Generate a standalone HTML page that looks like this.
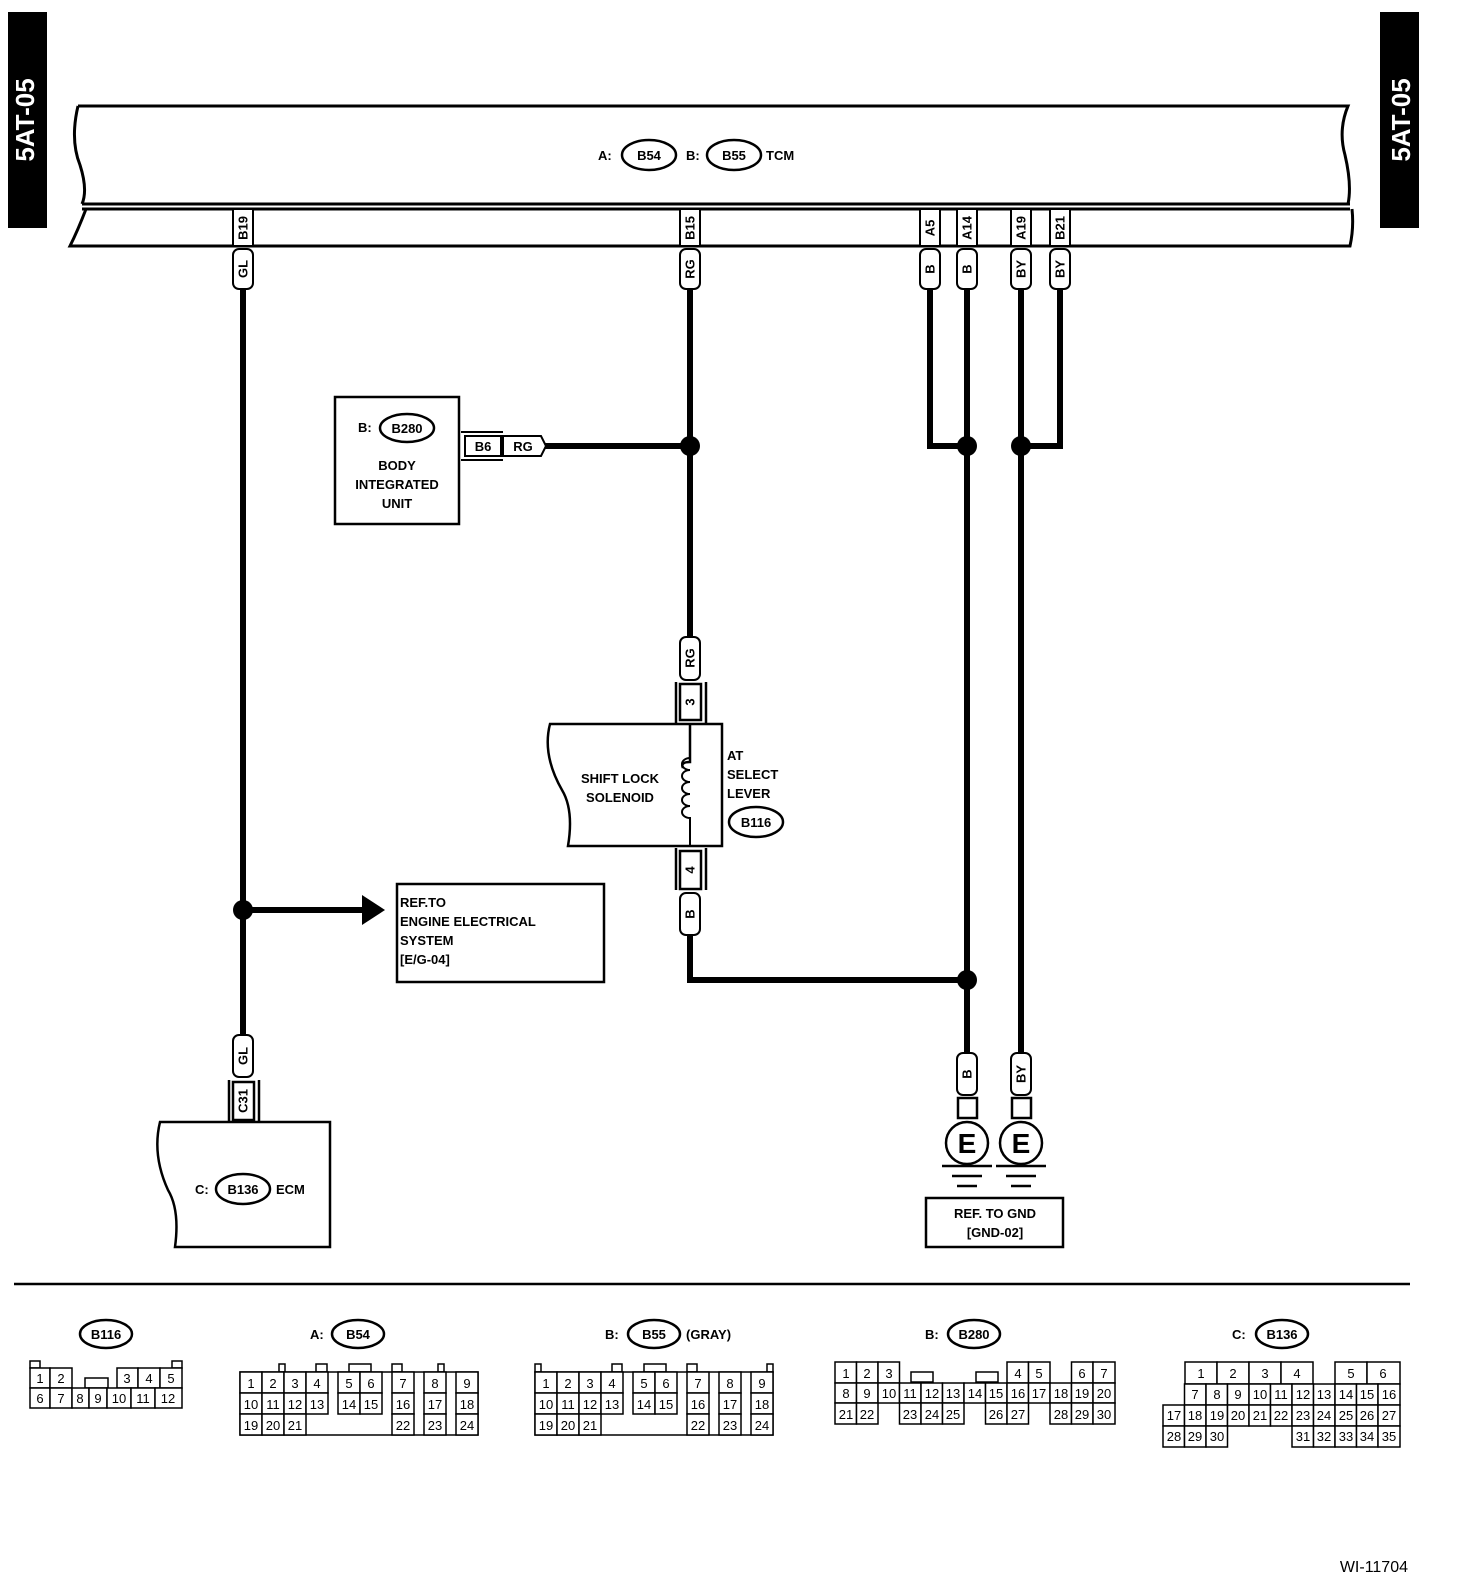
<!DOCTYPE html>
<html><head><meta charset="utf-8"><style>
html,body{margin:0;padding:0;background:#fff}
svg{display:block}
text{font-family:"Liberation Sans",Arial,sans-serif;font-weight:bold;fill:#000}
.s{font-size:15px}
.t{font-size:13px}
.c{font-size:13px;font-weight:normal;text-anchor:middle}
.v{font-size:13px;text-anchor:middle;dominant-baseline:central}
.cell rect{fill:#fff;stroke:#000;stroke-width:1.5}
</style></head><body>
<svg width="1472" height="1586" viewBox="0 0 1472 1586" xmlns="http://www.w3.org/2000/svg">
<rect width="1472" height="1586" fill="#fff"/>
<!-- side tabs -->
<rect x="8" y="12" width="39" height="216" fill="#000"/>
<text transform="translate(34,120) rotate(-90)" text-anchor="middle" style="fill:#fff;font-size:26px">5AT-05</text>
<rect x="1380" y="12" width="39" height="216" fill="#000"/>
<text transform="translate(1410,120) rotate(-90)" text-anchor="middle" style="fill:#fff;font-size:26px">5AT-05</text>

<!-- TCM bar -->
<g fill="none" stroke="#000" stroke-width="3">
<path d="M78,106 L1348,106 Q1338,130 1345,155 Q1352,185 1348,204"/>
<path d="M78,106 Q70,140 80,165 Q88,190 82,204"/>
<line x1="82" y1="204" x2="1350" y2="204"/>
<line x1="82" y1="209" x2="1350" y2="209"/>
<path d="M86,209 Q78,230 70,246 L1350,246 Q1354,228 1352,209"/>
</g>
<text x="598" y="160" class="t">A:</text>
<ellipse cx="649" cy="155" rx="27" ry="15" fill="none" stroke="#000" stroke-width="2.5"/>
<text x="649" y="160" class="t" text-anchor="middle">B54</text>
<text x="686" y="160" class="t">B:</text>
<ellipse cx="734" cy="155" rx="27" ry="15" fill="none" stroke="#000" stroke-width="2.5"/>
<text x="734" y="160" class="t" text-anchor="middle">B55</text>
<text x="766" y="160" class="t">TCM</text>

<!-- pin boxes in bar -->
<g fill="#fff" stroke="#000" stroke-width="2">
<rect x="233" y="209" width="20" height="37"/>
<rect x="680" y="209" width="20" height="37"/>
<rect x="920" y="209" width="20" height="37"/>
<rect x="957" y="209" width="20" height="37"/>
<rect x="1011" y="209" width="20" height="37"/>
<rect x="1050" y="209" width="20" height="37"/>
</g>
<text class="v" transform="translate(243,228) rotate(-90)">B19</text>
<text class="v" transform="translate(690,228) rotate(-90)">B15</text>
<text class="v" transform="translate(930,228) rotate(-90)">A5</text>
<text class="v" transform="translate(967,228) rotate(-90)">A14</text>
<text class="v" transform="translate(1021,228) rotate(-90)">A19</text>
<text class="v" transform="translate(1060,228) rotate(-90)">B21</text>

<!-- wires -->
<g fill="none" stroke="#000" stroke-width="6">
<line x1="243" y1="288" x2="243" y2="1036"/>
<line x1="690" y1="288" x2="690" y2="638"/>
<line x1="545" y1="446" x2="690" y2="446"/>
<polyline points="930,288 930,446 967,446"/>
<line x1="967" y1="288" x2="967" y2="1054"/>
<line x1="1021" y1="288" x2="1021" y2="1054"/>
<polyline points="1060,288 1060,446 1021,446"/>
<polyline points="690,934 690,980 967,980"/>
<line x1="243" y1="910" x2="365" y2="910"/>
</g>
<polygon points="362,895 385,910 362,925" fill="#000"/>
<g fill="#000">
<circle cx="690" cy="446" r="10"/><circle cx="967" cy="446" r="10"/><circle cx="1021" cy="446" r="10"/>
<circle cx="967" cy="980" r="10"/><circle cx="243" cy="910" r="10"/>
</g>

<!-- wire tags -->
<g fill="#fff" stroke="#000" stroke-width="2">
<rect x="233" y="249" width="20" height="40" rx="6"/>
<rect x="680" y="249" width="20" height="40" rx="6"/>
<rect x="920" y="249" width="20" height="40" rx="6"/>
<rect x="957" y="249" width="20" height="40" rx="6"/>
<rect x="1011" y="249" width="20" height="40" rx="6"/>
<rect x="1050" y="249" width="20" height="40" rx="6"/>
<rect x="680" y="637" width="20" height="43" rx="6"/>
<rect x="680" y="893" width="20" height="42" rx="6"/>
<rect x="233" y="1035" width="20" height="42" rx="6"/>
<rect x="957" y="1053" width="20" height="42" rx="6"/>
<rect x="1011" y="1053" width="20" height="42" rx="6"/>
</g>
<text class="v" transform="translate(243,269) rotate(-90)">GL</text>
<text class="v" transform="translate(690,269) rotate(-90)">RG</text>
<text class="v" transform="translate(930,269) rotate(-90)">B</text>
<text class="v" transform="translate(967,269) rotate(-90)">B</text>
<text class="v" transform="translate(1021,269) rotate(-90)">BY</text>
<text class="v" transform="translate(1060,269) rotate(-90)">BY</text>
<text class="v" transform="translate(690,658) rotate(-90)">RG</text>
<text class="v" transform="translate(690,914) rotate(-90)">B</text>
<text class="v" transform="translate(243,1056) rotate(-90)">GL</text>
<text class="v" transform="translate(967,1074) rotate(-90)">B</text>
<text class="v" transform="translate(1021,1074) rotate(-90)">BY</text>

<!-- body integrated unit -->
<rect x="335" y="397" width="124" height="127" fill="none" stroke="#000" stroke-width="2.5"/>
<text x="358" y="432" class="t">B:</text>
<ellipse cx="407" cy="428" rx="27" ry="14" fill="none" stroke="#000" stroke-width="2.5"/>
<text x="407" y="433" class="t" text-anchor="middle">B280</text>
<text x="397" y="470" class="t" text-anchor="middle">BODY</text>
<text x="397" y="489" class="t" text-anchor="middle">INTEGRATED</text>
<text x="397" y="508" class="t" text-anchor="middle">UNIT</text>
<g fill="none" stroke="#000" stroke-width="2">
<line x1="461" y1="432" x2="503" y2="432"/><line x1="461" y1="460" x2="503" y2="460"/>
<rect x="465" y="436" width="36" height="20"/>
<path d="M503,436 L541,436 L546,446 L541,456 L503,456 Z"/>
</g>
<text x="483" y="451" class="t" text-anchor="middle">B6</text>
<text x="523" y="451" class="t" text-anchor="middle">RG</text>

<!-- shift lock -->
<g fill="none" stroke="#000" stroke-width="2.5">
<line x1="676" y1="682" x2="676" y2="724"/><line x1="706" y1="682" x2="706" y2="724"/>
<rect x="680" y="684" width="21" height="36" fill="#fff"/>
<path d="M550,724 L722,724 L722,846 L568,846 Q574,810 562,790 Q542,755 550,724 Z"/>
<path d="M690,724 L690,762 Q680,762 683,768 M690,762 L690,724"/>
<line x1="676" y1="848" x2="676" y2="890"/><line x1="706" y1="848" x2="706" y2="890"/>
<rect x="680" y="851" width="21" height="38" fill="#fff"/>
</g>
<g fill="none" stroke="#000" stroke-width="2">
<path d="M690,724 L690,758 A8,6 0 0 0 690,770 A8,6 0 0 0 690,782 A8,6 0 0 0 690,794 A8,6 0 0 0 690,806 A8,6 0 0 0 690,818 L690,846"/>
</g>
<text class="v" transform="translate(690,702) rotate(-90)">3</text>
<text class="v" transform="translate(690,870) rotate(-90)">4</text>
<text x="620" y="783" class="t" text-anchor="middle">SHIFT LOCK</text>
<text x="620" y="802" class="t" text-anchor="middle">SOLENOID</text>
<text x="727" y="760" class="t">AT</text>
<text x="727" y="779" class="t">SELECT</text>
<text x="727" y="798" class="t">LEVER</text>
<ellipse cx="756" cy="822" rx="27" ry="15" fill="none" stroke="#000" stroke-width="2.5"/>
<text x="756" y="827" class="t" text-anchor="middle">B116</text>

<!-- ref engine -->
<rect x="397" y="884" width="207" height="98" fill="none" stroke="#000" stroke-width="2.5"/>
<text x="400" y="907" class="t">REF.TO</text>
<text x="400" y="926" class="t">ENGINE ELECTRICAL</text>
<text x="400" y="945" class="t">SYSTEM</text>
<text x="400" y="964" class="t">[E/G-04]</text>

<!-- ECM -->
<g fill="none" stroke="#000" stroke-width="2.5">
<line x1="229" y1="1080" x2="229" y2="1122"/><line x1="259" y1="1080" x2="259" y2="1122"/>
<rect x="233" y="1082" width="21" height="38" fill="#fff"/>
<path d="M160,1122 L330,1122 L330,1247 L175,1247 Q180,1210 168,1190 Q152,1155 160,1122 Z"/>
</g>
<text class="v" transform="translate(243,1101) rotate(-90)">C31</text>
<text x="195" y="1194" class="t">C:</text>
<ellipse cx="243" cy="1189" rx="27" ry="15" fill="none" stroke="#000" stroke-width="2.5"/>
<text x="243" y="1194" class="t" text-anchor="middle">B136</text>
<text x="276" y="1194" class="t">ECM</text>

<!-- grounds -->
<g fill="none" stroke="#000" stroke-width="2.5">
<rect x="958" y="1098" width="19" height="20" fill="#fff"/>
<rect x="1012" y="1098" width="19" height="20" fill="#fff"/>
<circle cx="967" cy="1143" r="21"/>
<circle cx="1021" cy="1143" r="21"/>
<line x1="942" y1="1166" x2="992" y2="1166"/><line x1="996" y1="1166" x2="1046" y2="1166"/>
<line x1="952" y1="1176" x2="982" y2="1176"/><line x1="1006" y1="1176" x2="1036" y2="1176"/>
<line x1="957" y1="1186" x2="977" y2="1186"/><line x1="1011" y1="1186" x2="1031" y2="1186"/>
<rect x="926" y="1198" width="137" height="49"/>
</g>
<text x="967" y="1153" text-anchor="middle" style="font-size:28px">E</text>
<text x="1021" y="1153" text-anchor="middle" style="font-size:28px">E</text>
<text x="995" y="1218" class="t" text-anchor="middle">REF. TO GND</text>
<text x="995" y="1237" class="t" text-anchor="middle">[GND-02]</text>

<line x1="14" y1="1284" x2="1410" y2="1284" stroke="#000" stroke-width="2.5"/>

<!-- connector labels -->
<g fill="none" stroke="#000" stroke-width="2.5">
<ellipse cx="106" cy="1334" rx="26" ry="14"/>
<ellipse cx="358" cy="1334" rx="26" ry="14"/>
<ellipse cx="654" cy="1334" rx="26" ry="14"/>
<ellipse cx="974" cy="1334" rx="26" ry="14"/>
<ellipse cx="1282" cy="1334" rx="26" ry="14"/>
</g>
<text x="106" y="1339" class="t" text-anchor="middle">B116</text>
<text x="310" y="1339" class="t">A:</text><text x="358" y="1339" class="t" text-anchor="middle">B54</text>
<text x="605" y="1339" class="t">B:</text><text x="654" y="1339" class="t" text-anchor="middle">B55</text><text x="686" y="1339" class="t">(GRAY)</text>
<text x="925" y="1339" class="t">B:</text><text x="974" y="1339" class="t" text-anchor="middle">B280</text>
<text x="1232" y="1339" class="t">C:</text><text x="1282" y="1339" class="t" text-anchor="middle">B136</text>

<!-- B116 grid -->
<g class="cell">
<rect x="30" y="1361" width="10" height="7"/><rect x="172" y="1361" width="10" height="7"/>
<rect x="85" y="1378" width="23" height="10"/>
<rect x="30" y="1368" width="20" height="20"/><rect x="50" y="1368" width="22" height="20"/>
<rect x="117" y="1368" width="21" height="20"/><rect x="138" y="1368" width="22" height="20"/><rect x="160" y="1368" width="22" height="20"/>
<rect x="30" y="1388" width="20" height="20"/><rect x="50" y="1388" width="22" height="20"/><rect x="72" y="1388" width="17" height="20"/><rect x="89" y="1388" width="18" height="20"/><rect x="107" y="1388" width="24" height="20"/><rect x="131" y="1388" width="24" height="20"/><rect x="155" y="1388" width="27" height="20"/>
</g>
<g class="c">
<text x="40" y="1383" class="c">1</text><text x="61" y="1383" class="c">2</text><text x="127" y="1383" class="c">3</text><text x="149" y="1383" class="c">4</text><text x="171" y="1383" class="c">5</text>
<text x="40" y="1403" class="c">6</text><text x="61" y="1403" class="c">7</text><text x="80" y="1403" class="c">8</text><text x="98" y="1403" class="c">9</text><text x="119" y="1403" class="c">10</text><text x="143" y="1403" class="c">11</text><text x="168" y="1403" class="c">12</text>
</g>

<!-- B54 / B55 grids -->
<g id="g54" class="cell">
<rect x="279" y="1364" width="6" height="8"/><rect x="316" y="1364" width="11" height="8"/><rect x="349" y="1364" width="22" height="8"/><rect x="392" y="1364" width="10" height="8"/><rect x="438" y="1364" width="6" height="8"/>
<rect x="240" y="1372" width="238" height="63"/>
<rect x="240" y="1372" width="22" height="21"/><rect x="262" y="1372" width="22" height="21"/><rect x="284" y="1372" width="22" height="21"/><rect x="306" y="1372" width="22" height="21"/>
<rect x="338" y="1372" width="22" height="21"/><rect x="360" y="1372" width="22" height="21"/><rect x="392" y="1372" width="22" height="21"/><rect x="424" y="1372" width="22" height="21"/><rect x="456" y="1372" width="22" height="21"/>
<rect x="240" y="1393" width="22" height="21"/><rect x="262" y="1393" width="22" height="21"/><rect x="284" y="1393" width="22" height="21"/><rect x="306" y="1393" width="22" height="21"/>
<rect x="338" y="1393" width="22" height="21"/><rect x="360" y="1393" width="22" height="21"/><rect x="392" y="1393" width="22" height="21"/><rect x="424" y="1393" width="22" height="21"/><rect x="456" y="1393" width="22" height="21"/>
<rect x="240" y="1414" width="22" height="21"/><rect x="262" y="1414" width="22" height="21"/><rect x="284" y="1414" width="22" height="21"/>
<rect x="392" y="1414" width="22" height="21"/><rect x="424" y="1414" width="22" height="21"/><rect x="456" y="1414" width="22" height="21"/>
</g>
<g>
<text x="251" y="1388" class="c">1</text><text x="273" y="1388" class="c">2</text><text x="295" y="1388" class="c">3</text><text x="317" y="1388" class="c">4</text><text x="349" y="1388" class="c">5</text><text x="371" y="1388" class="c">6</text><text x="403" y="1388" class="c">7</text><text x="435" y="1388" class="c">8</text><text x="467" y="1388" class="c">9</text>
<text x="251" y="1409" class="c">10</text><text x="273" y="1409" class="c">11</text><text x="295" y="1409" class="c">12</text><text x="317" y="1409" class="c">13</text><text x="349" y="1409" class="c">14</text><text x="371" y="1409" class="c">15</text><text x="403" y="1409" class="c">16</text><text x="435" y="1409" class="c">17</text><text x="467" y="1409" class="c">18</text>
<text x="251" y="1430" class="c">19</text><text x="273" y="1430" class="c">20</text><text x="295" y="1430" class="c">21</text><text x="403" y="1430" class="c">22</text><text x="435" y="1430" class="c">23</text><text x="467" y="1430" class="c">24</text>
</g>
<g class="cell" transform="translate(295,0)">
<rect x="240" y="1364" width="6" height="8"/><rect x="317" y="1364" width="10" height="8"/><rect x="349" y="1364" width="22" height="8"/><rect x="392" y="1364" width="10" height="8"/><rect x="472" y="1364" width="6" height="8"/>
<rect x="240" y="1372" width="238" height="63"/>
<rect x="240" y="1372" width="22" height="21"/><rect x="262" y="1372" width="22" height="21"/><rect x="284" y="1372" width="22" height="21"/><rect x="306" y="1372" width="22" height="21"/>
<rect x="338" y="1372" width="22" height="21"/><rect x="360" y="1372" width="22" height="21"/><rect x="392" y="1372" width="22" height="21"/><rect x="424" y="1372" width="22" height="21"/><rect x="456" y="1372" width="22" height="21"/>
<rect x="240" y="1393" width="22" height="21"/><rect x="262" y="1393" width="22" height="21"/><rect x="284" y="1393" width="22" height="21"/><rect x="306" y="1393" width="22" height="21"/>
<rect x="338" y="1393" width="22" height="21"/><rect x="360" y="1393" width="22" height="21"/><rect x="392" y="1393" width="22" height="21"/><rect x="424" y="1393" width="22" height="21"/><rect x="456" y="1393" width="22" height="21"/>
<rect x="240" y="1414" width="22" height="21"/><rect x="262" y="1414" width="22" height="21"/><rect x="284" y="1414" width="22" height="21"/>
<rect x="392" y="1414" width="22" height="21"/><rect x="424" y="1414" width="22" height="21"/><rect x="456" y="1414" width="22" height="21"/>
</g>
<g transform="translate(295,0)">
<text x="251" y="1388" class="c">1</text><text x="273" y="1388" class="c">2</text><text x="295" y="1388" class="c">3</text><text x="317" y="1388" class="c">4</text><text x="349" y="1388" class="c">5</text><text x="371" y="1388" class="c">6</text><text x="403" y="1388" class="c">7</text><text x="435" y="1388" class="c">8</text><text x="467" y="1388" class="c">9</text>
<text x="251" y="1409" class="c">10</text><text x="273" y="1409" class="c">11</text><text x="295" y="1409" class="c">12</text><text x="317" y="1409" class="c">13</text><text x="349" y="1409" class="c">14</text><text x="371" y="1409" class="c">15</text><text x="403" y="1409" class="c">16</text><text x="435" y="1409" class="c">17</text><text x="467" y="1409" class="c">18</text>
<text x="251" y="1430" class="c">19</text><text x="273" y="1430" class="c">20</text><text x="295" y="1430" class="c">21</text><text x="403" y="1430" class="c">22</text><text x="435" y="1430" class="c">23</text><text x="467" y="1430" class="c">24</text>
</g>

<!-- B280: cols 21.5 from 835 -->
<g class="cell">
<rect x="911" y="1372" width="22" height="10"/><rect x="976" y="1372" width="22" height="10"/>
<rect x="835" y="1362" width="21.5" height="21"/><rect x="856.5" y="1362" width="21.5" height="21"/><rect x="878" y="1362" width="21.5" height="21"/>
<rect x="1007" y="1362" width="21.5" height="21"/><rect x="1028.5" y="1362" width="21.5" height="21"/>
<rect x="1071.5" y="1362" width="21.5" height="21"/><rect x="1093" y="1362" width="22" height="21"/>
<rect x="835" y="1383" width="21.5" height="20"/><rect x="856.5" y="1383" width="21.5" height="20"/><rect x="878" y="1383" width="21.5" height="20"/><rect x="899.5" y="1383" width="21.5" height="20"/><rect x="921" y="1383" width="21.5" height="20"/><rect x="942.5" y="1383" width="21.5" height="20"/><rect x="964" y="1383" width="21.5" height="20"/><rect x="985.5" y="1383" width="21.5" height="20"/><rect x="1007" y="1383" width="21.5" height="20"/><rect x="1028.5" y="1383" width="21.5" height="20"/><rect x="1050" y="1383" width="21.5" height="20"/><rect x="1071.5" y="1383" width="21.5" height="20"/><rect x="1093" y="1383" width="22" height="20"/>
<rect x="835" y="1403" width="21.5" height="21"/><rect x="856.5" y="1403" width="21.5" height="21"/>
<rect x="899.5" y="1403" width="21.5" height="21"/><rect x="921" y="1403" width="21.5" height="21"/><rect x="942.5" y="1403" width="21.5" height="21"/>
<rect x="985.5" y="1403" width="21.5" height="21"/><rect x="1007" y="1403" width="21.5" height="21"/>
<rect x="1050" y="1403" width="21.5" height="21"/><rect x="1071.5" y="1403" width="21.5" height="21"/><rect x="1093" y="1403" width="22" height="21"/>
</g>
<g>
<text x="846" y="1378" class="c">1</text><text x="867" y="1378" class="c">2</text><text x="889" y="1378" class="c">3</text><text x="1018" y="1378" class="c">4</text><text x="1039" y="1378" class="c">5</text><text x="1082" y="1378" class="c">6</text><text x="1104" y="1378" class="c">7</text>
<text x="846" y="1398" class="c">8</text><text x="867" y="1398" class="c">9</text><text x="889" y="1398" class="c">10</text><text x="910" y="1398" class="c">11</text><text x="932" y="1398" class="c">12</text><text x="953" y="1398" class="c">13</text><text x="975" y="1398" class="c">14</text><text x="996" y="1398" class="c">15</text><text x="1018" y="1398" class="c">16</text><text x="1039" y="1398" class="c">17</text><text x="1061" y="1398" class="c">18</text><text x="1082" y="1398" class="c">19</text><text x="1104" y="1398" class="c">20</text>
<text x="846" y="1419" class="c">21</text><text x="867" y="1419" class="c">22</text><text x="910" y="1419" class="c">23</text><text x="932" y="1419" class="c">24</text><text x="953" y="1419" class="c">25</text><text x="996" y="1419" class="c">26</text><text x="1018" y="1419" class="c">27</text><text x="1061" y="1419" class="c">28</text><text x="1082" y="1419" class="c">29</text><text x="1104" y="1419" class="c">30</text>
</g>

<!-- B136: cols 21.5 from 1163 -->
<g class="cell">
<rect x="1185" y="1362" width="32" height="22"/><rect x="1217" y="1362" width="32" height="22"/><rect x="1249" y="1362" width="32" height="22"/><rect x="1281" y="1362" width="32" height="22"/>
<rect x="1335" y="1362" width="32" height="22"/><rect x="1367" y="1362" width="33" height="22"/>
<rect x="1184.5" y="1384" width="21.5" height="21"/><rect x="1206" y="1384" width="21.5" height="21"/><rect x="1227.5" y="1384" width="21.5" height="21"/><rect x="1249" y="1384" width="21.5" height="21"/><rect x="1270.5" y="1384" width="21.5" height="21"/><rect x="1292" y="1384" width="21.5" height="21"/><rect x="1313.5" y="1384" width="21.5" height="21"/><rect x="1335" y="1384" width="21.5" height="21"/><rect x="1356.5" y="1384" width="21.5" height="21"/><rect x="1378" y="1384" width="22" height="21"/>
<rect x="1163" y="1405" width="21.5" height="21"/><rect x="1184.5" y="1405" width="21.5" height="21"/><rect x="1206" y="1405" width="21.5" height="21"/><rect x="1227.5" y="1405" width="21.5" height="21"/><rect x="1249" y="1405" width="21.5" height="21"/><rect x="1270.5" y="1405" width="21.5" height="21"/><rect x="1292" y="1405" width="21.5" height="21"/><rect x="1313.5" y="1405" width="21.5" height="21"/><rect x="1335" y="1405" width="21.5" height="21"/><rect x="1356.5" y="1405" width="21.5" height="21"/><rect x="1378" y="1405" width="22" height="21"/>
<rect x="1163" y="1426" width="21.5" height="21"/><rect x="1184.5" y="1426" width="21.5" height="21"/><rect x="1206" y="1426" width="21.5" height="21"/>
<rect x="1292" y="1426" width="21.5" height="21"/><rect x="1313.5" y="1426" width="21.5" height="21"/><rect x="1335" y="1426" width="21.5" height="21"/><rect x="1356.5" y="1426" width="21.5" height="21"/><rect x="1378" y="1426" width="22" height="21"/>
</g>
<g>
<text x="1201" y="1378" class="c">1</text><text x="1233" y="1378" class="c">2</text><text x="1265" y="1378" class="c">3</text><text x="1297" y="1378" class="c">4</text><text x="1351" y="1378" class="c">5</text><text x="1383" y="1378" class="c">6</text>
<text x="1195" y="1399" class="c">7</text><text x="1217" y="1399" class="c">8</text><text x="1238" y="1399" class="c">9</text><text x="1260" y="1399" class="c">10</text><text x="1281" y="1399" class="c">11</text><text x="1303" y="1399" class="c">12</text><text x="1324" y="1399" class="c">13</text><text x="1346" y="1399" class="c">14</text><text x="1367" y="1399" class="c">15</text><text x="1389" y="1399" class="c">16</text>
<text x="1174" y="1420" class="c">17</text><text x="1195" y="1420" class="c">18</text><text x="1217" y="1420" class="c">19</text><text x="1238" y="1420" class="c">20</text><text x="1260" y="1420" class="c">21</text><text x="1281" y="1420" class="c">22</text><text x="1303" y="1420" class="c">23</text><text x="1324" y="1420" class="c">24</text><text x="1346" y="1420" class="c">25</text><text x="1367" y="1420" class="c">26</text><text x="1389" y="1420" class="c">27</text>
<text x="1174" y="1441" class="c">28</text><text x="1195" y="1441" class="c">29</text><text x="1217" y="1441" class="c">30</text><text x="1303" y="1441" class="c">31</text><text x="1324" y="1441" class="c">32</text><text x="1346" y="1441" class="c">33</text><text x="1367" y="1441" class="c">34</text><text x="1389" y="1441" class="c">35</text>
</g>

<text x="1408" y="1572" text-anchor="end" style="font-size:16px;font-weight:normal">WI-11704</text>
</svg>
</body></html>
